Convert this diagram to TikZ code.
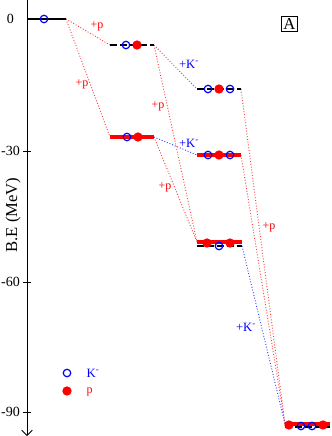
\documentclass[tikz,border=0pt]{standalone}
\usepackage{fontspec}
\setmainfont{Liberation Serif}
\usetikzlibrary{arrows.meta}
\tikzstyle{kaon}   = [circle, draw=blue, line width=0.9pt, inner sep=0pt, minimum size=5.6pt]
\tikzstyle{proton} = [circle, fill=red, inner sep=0pt, minimum size=7pt]
\tikzstyle{bound}  = [line width=2.3pt, draw=red]
\tikzstyle{free}   = [line width=1.1pt, draw=black, dash pattern=on 5pt off 2.5pt]
\tikzstyle{addp}   = [dash pattern=on 0.7pt off 1.4pt, line width=0.7pt, draw=red!75]
\tikzstyle{addk}   = [dash pattern=on 0.7pt off 1.4pt, line width=0.7pt, draw=blue!75]
\tikzstyle{plab}   = [text=red, font=\fontsize{9}{10}\selectfont]
\tikzstyle{klab}   = [text=blue, font=\fontsize{9.5}{10}\selectfont]

\begin{document}
\begin{tikzpicture}[x=0.75pt, y=-0.75pt]
    \useasboundingbox (0,0) rectangle (332,436);

    \draw [-{Straight Barb[length=4pt]}, line width=0.6pt] (27,0) -- (27,436);
    \foreach \v/\y in {-30/151, -60/282, -90/412}
        \draw [line width=0.6pt] (23,\y) -- (31,\y);
    \foreach \v/\y in {0/19, -30/151, -60/282, -90/412}
        \node [font=\fontsize{10.5}{12}\selectfont] at (10.5,\y) {\v};
    \node (axis) [rotate=90, font=\fontsize{12.5}{14}\selectfont] at (13,215) {B.E (MeV)};
    \node (tag) [draw, line width=0.5pt, inner sep=1.5pt, font=\fontsize{12.5}{14}\selectfont] at (289.5,23.5) {A};

    \coordinate (k0l) at (27,19);    \coordinate (k0r) at (66,19);
    \coordinate (kpal) at (110,45);  \coordinate (kpar) at (154,45);
    \coordinate (kpbl) at (110,137); \coordinate (kpbr) at (154,137);
    \coordinate (kkal) at (197,89);  \coordinate (kkar) at (241,89);
    \coordinate (kkbl) at (197,155); \coordinate (kkbr) at (241,155);
    \coordinate (ppl) at (197,242);  \coordinate (ppr) at (242,246);
    \coordinate (allr) at (285,424);

    \draw [addp] (k0r) -- (kpal);
    \node (p0) [plab] at (97,26) {+p};
    \draw [addp] (k0r) -- (kpbl);
    \node (p1) [plab] at (82,84) {+p};
    \draw [addp] (kpar) -- (kkal);
    \node (k1) [klab] at (189,64) {+K\textsuperscript{-}};
    \draw [addp] (kpar) -- (ppl);
    \node (p2) [plab] at (158,106) {+p};
    \draw [addk] (kpbr) -- (kkbl);
    \node (k2) [klab] at (189,143) {+K\textsuperscript{-}};
    \draw [addp] (kpbr) -- (ppl);
    \node (p3) [plab] at (165,187) {+p};
    \draw [addp] (kkar) -- (allr);
    \draw [addp] (kkbr) -- (allr);
    \node (p4) [plab] at (269,227) {+p};
    \draw [addk] (ppr) -- (allr);
    \node (k3) [klab] at (246,327) {+K\textsuperscript{-}};

    \draw [line width=1.5pt] (k0l) -- (k0r);
    \draw [free] (kpal) -- (kpar);
    \draw [bound] (kpbl) -- (kpbr);
    \draw [free] (kkal) -- (kkar);
    \draw [bound] (kkbl) -- (kkbr);
    \draw [bound] (ppl) -- (242,242);
    \draw [free] (197,246) -- (ppr);
    \draw [bound] (allr) -- (330,424);
    \draw [free] (285,427) -- (330,427);

    \node (c0) [kaon] at (44,19) {};
    \node (c1) [kaon] at (126,45) {};   \node (c2) [proton] at (137,45) {};
    \node (c3) [kaon] at (127,137) {};  \node (c4) [proton] at (138,137) {};
    \node (c5) [kaon] at (208,89) {};   \node (c6) [proton] at (219,89) {};
    \node (c7) [kaon] at (230,89) {};
    \node (c8) [kaon] at (208,155) {};  \node (c9) [proton] at (219,155) {};
    \node (c10) [kaon] at (230,155) {};
    \node (c11) [proton] at (207,243) {}; \node (c12) [kaon] at (219,246) {};
    \node (c13) [proton] at (230,243) {};
    \node (c14) [proton] at (289,425) {}; \node (c15) [kaon] at (301,426) {};
    \node (c16) [kaon] at (312,426) {};   \node (c17) [proton] at (323,425) {};

    \node (lk) [kaon] at (67,373) {};
    \node (lkt) [klab, anchor=west] at (82,373) {K\textsuperscript{-}};
    \node (lp) [proton] at (67,391) {};
    \node (lpt) [plab, anchor=west] at (82,392) {p};
\end{tikzpicture}
\end{document}
